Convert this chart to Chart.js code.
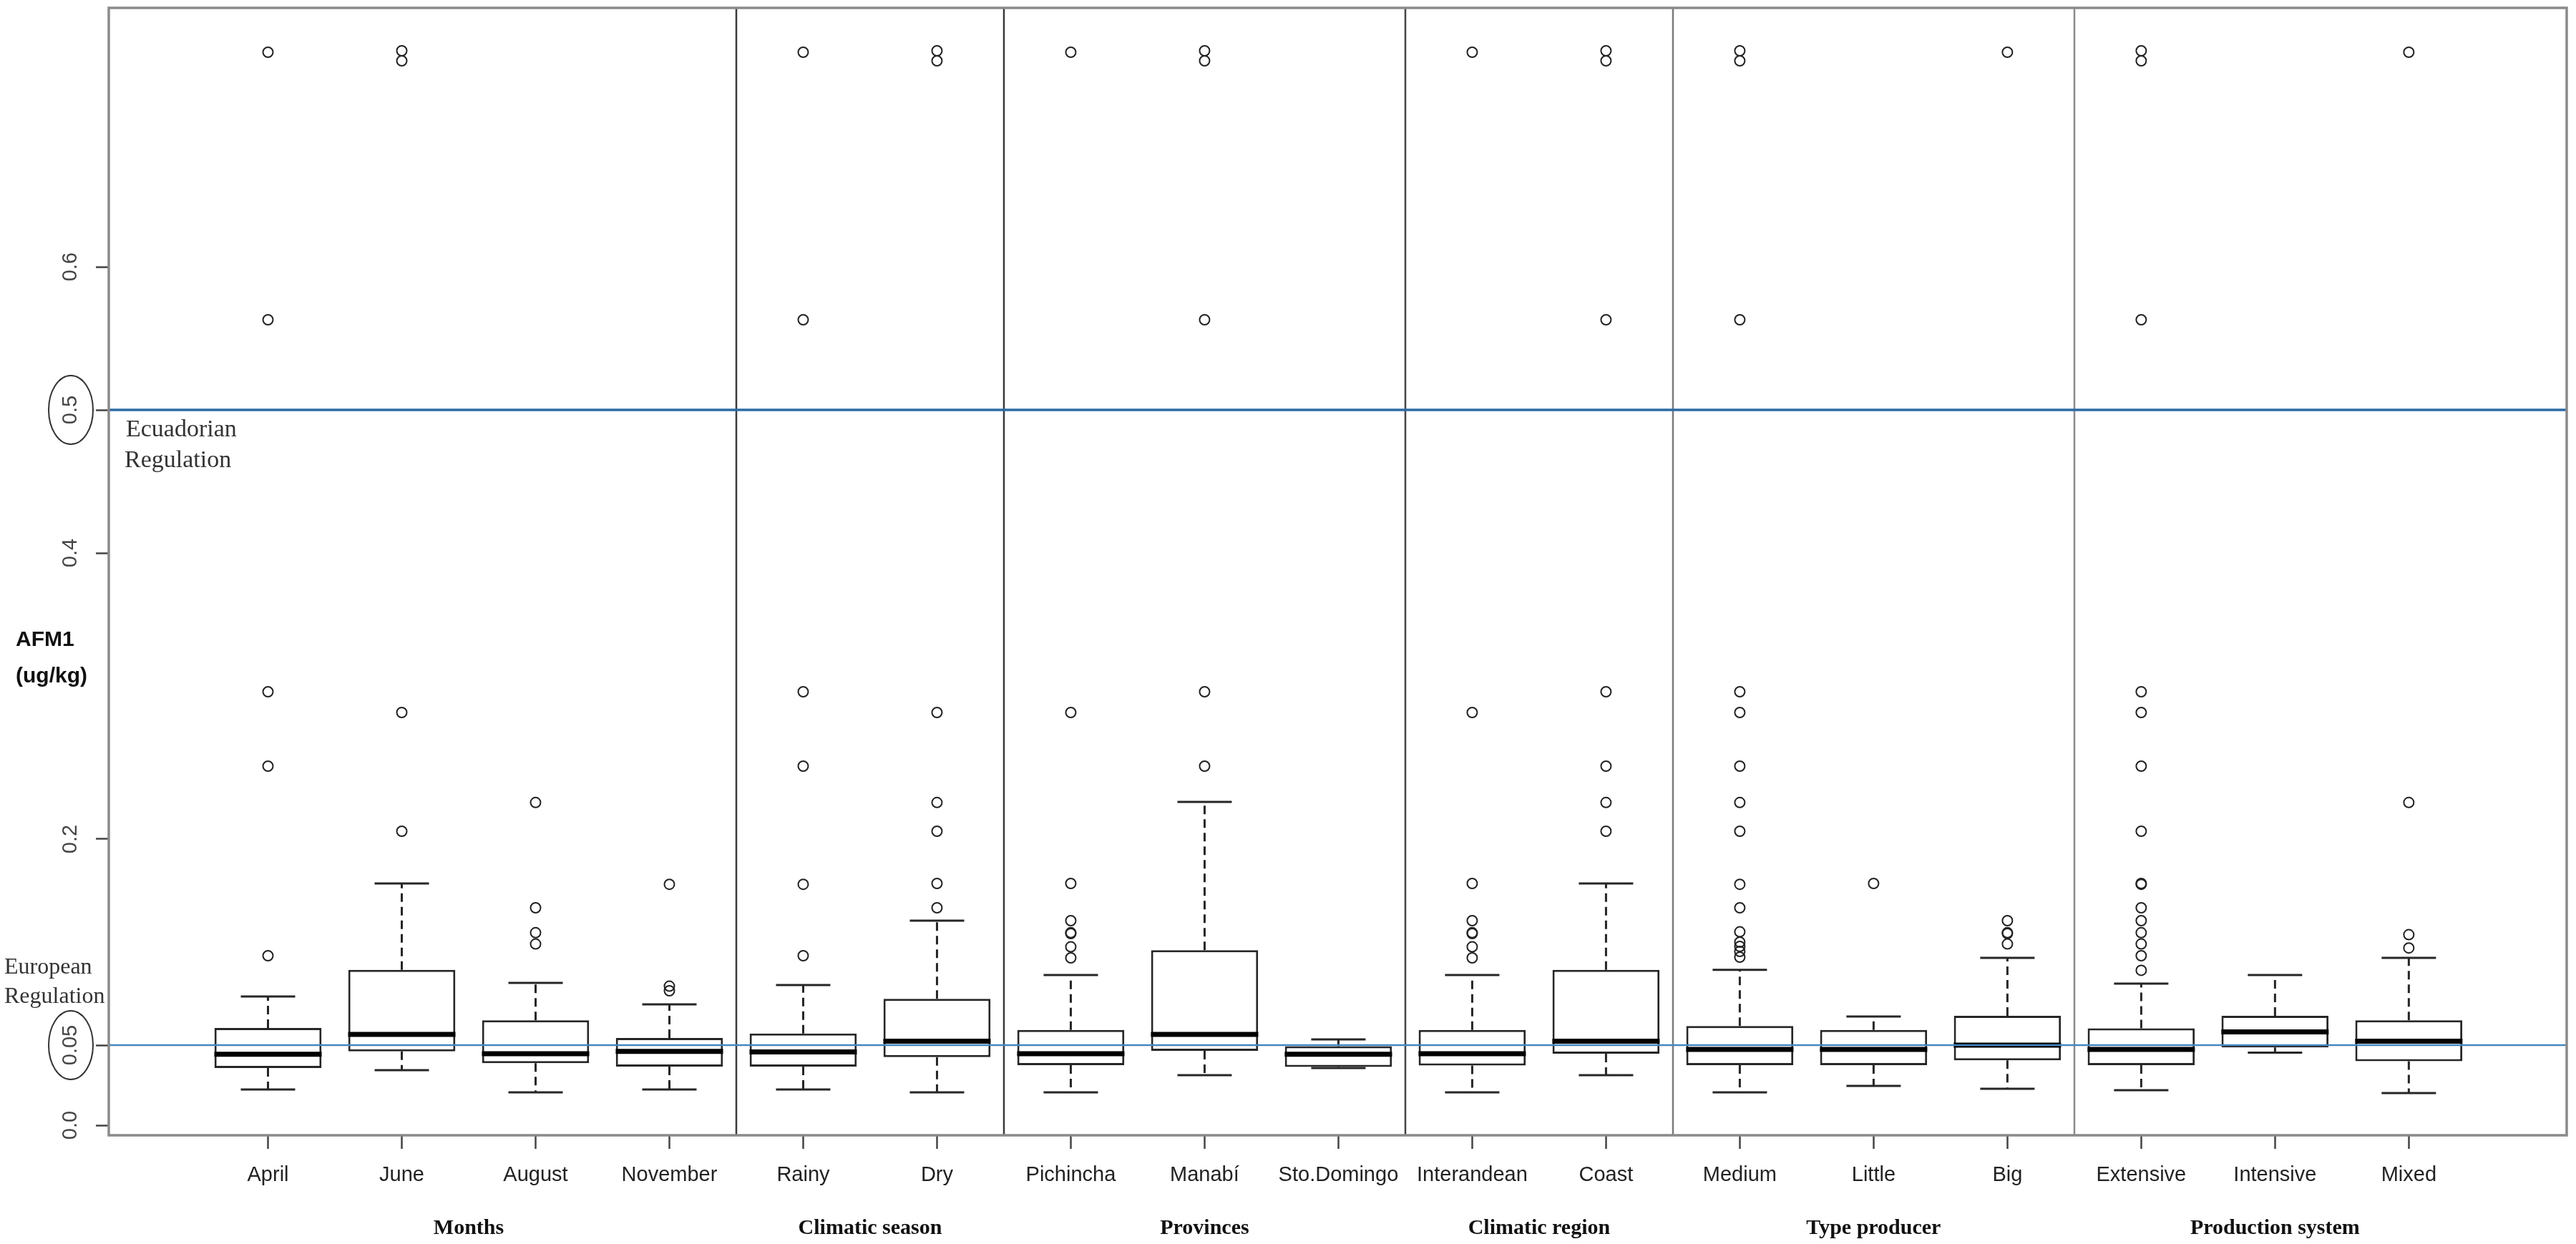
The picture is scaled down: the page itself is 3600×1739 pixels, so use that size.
<!DOCTYPE html>
<html>
<head>
<meta charset="utf-8">
<title>AFM1 boxplots</title>
<script src="https://cdn.jsdelivr.net/npm/chart.js@4.4.1/dist/chart.umd.min.js"></script>
<style>
  html, body { margin: 0; padding: 0; background: #fff; }
  #wrap { width: 3600px; height: 1739px; position: relative; }
</style>
</head>
<body>
<div id="wrap"><canvas id="chart"></canvas></div>
<script>
// Categorias y grupos
const CATEGORIES = ['April', 'June', 'August', 'November', 'Rainy', 'Dry', 'Pichincha', 'Manabí', 'Sto.Domingo',
  'Interandean', 'Coast', 'Medium', 'Little', 'Big', 'Extensive', 'Intensive', 'Mixed'];
const GROUPS = ['Months', 'Climatic season', 'Provinces', 'Climatic region', 'Type producer', 'Production system'];
const GROUP_SIZES = [4, 2, 3, 2, 3, 3];

// Estadisticos de cada caja (ug/kg)
const WHISKER_LOW = [0.025, 0.0385, 0.023, 0.025, 0.025, 0.023, 0.023, 0.035, 0.040, 0.023, 0.035, 0.023, 0.0275, 0.0255, 0.0245, 0.0507, 0.0225];
const Q1 = [0.040, 0.0516, 0.0434, 0.041, 0.041, 0.0476, 0.042, 0.052, 0.0408, 0.0417, 0.050, 0.042, 0.042, 0.0454, 0.042, 0.0544, 0.0448];
const MEDIAN = [0.0496, 0.0635, 0.050, 0.0516, 0.0513, 0.0587, 0.050, 0.0635, 0.0496, 0.050, 0.0587, 0.053, 0.053, 0.056, 0.053, 0.0652, 0.0587];
const Q3 = [0.068, 0.1086, 0.0734, 0.061, 0.0641, 0.0884, 0.0666, 0.1224, 0.0553, 0.0666, 0.1086, 0.0694, 0.0666, 0.0765, 0.0677, 0.0765, 0.0734];
const WHISKER_HIGH = [0.090, 0.169, 0.0995, 0.0845, 0.098, 0.143, 0.105, 0.226, 0.060, 0.105, 0.169, 0.1086, 0.076, 0.117, 0.099, 0.105, 0.117];
const OUTLIERS = [
  [0.750, 0.563, 0.303, 0.251, 0.1185],
  [0.751, 0.744, 0.2885, 0.2055],
  [0.2256, 0.152, 0.1346, 0.1267],
  [0.1684, 0.0972, 0.094],
  [0.750, 0.563, 0.303, 0.251, 0.1684, 0.1185],
  [0.751, 0.744, 0.2885, 0.2256, 0.2055, 0.169, 0.152],
  [0.750, 0.2885, 0.169, 0.143, 0.1346, 0.134, 0.1247, 0.117],
  [0.751, 0.744, 0.563, 0.303, 0.251],
  [],
  [0.750, 0.2885, 0.169, 0.143, 0.1346, 0.134, 0.1247, 0.117],
  [0.751, 0.744, 0.563, 0.303, 0.251, 0.2256, 0.2055],
  [0.751, 0.744, 0.563, 0.303, 0.2885, 0.251, 0.2256, 0.2055, 0.1684, 0.152, 0.1352, 0.128, 0.125, 0.1215, 0.1175],
  [0.169],
  [0.750, 0.143, 0.1346, 0.134, 0.1267],
  [0.751, 0.744, 0.563, 0.303, 0.2885, 0.251, 0.2055, 0.169, 0.1684, 0.152, 0.143, 0.1346, 0.1267, 0.1185, 0.1083],
  [],
  [0.750, 0.2256, 0.1332, 0.1239]
];

// Limites regulatorios: la linea europea (0.05) aparece dibujada en la figura a ~0.056
const ECUADOR_LIMIT = 0.5;
const EUROPE_LIMIT = 0.056;

// Eje Y
const Y_TICKS = [0, EUROPE_LIMIT, 0.2, 0.4, ECUADOR_LIMIT, 0.6];
const Y_TICK_LABELS = ['0.0', '0.05', '0.2', '0.4', '0.5', '0.6'];
const CIRCLED_TICKS = [EUROPE_LIMIT, ECUADOR_LIMIT];

const SEPARATOR_COLORS = ['#3a3a3a', '#3a3a3a', '#444', '#7a7a7a', '#8a8a8a'];

Chart.defaults.font.family = "'Liberation Sans', Arial, sans-serif";
Chart.defaults.color = '#222';

// Dibujos extra: separadores, lineas de regulacion, textos
const decorations = {
    id: 'decorations',
    beforeDatasetsDraw(chart) {
        const {ctx, chartArea: a, scales: {x}} = chart;
        ctx.save();
        let idx = 0;
        GROUP_SIZES.slice(0, -1).forEach((n, g) => {
            idx += n;
            const px = Math.round(x.getPixelForValue(idx + 0.5));
            ctx.strokeStyle = SEPARATOR_COLORS[g];
            ctx.lineWidth = 2.5;
            ctx.beginPath();
            ctx.moveTo(px, a.top);
            ctx.lineTo(px, a.bottom);
            ctx.stroke();
        });
        ctx.restore();
    },
    afterDatasetsDraw(chart) {
        const {ctx, chartArea: a, scales: {y}} = chart;
        ctx.save();
        [[ECUADOR_LIMIT, '#2d6aa3', 3.5], [EUROPE_LIMIT, '#4388c2', 2.5]].forEach(([v, color, w]) => {
            const py = y.getPixelForValue(v);
            ctx.strokeStyle = color;
            ctx.lineWidth = w;
            ctx.beginPath();
            ctx.moveTo(a.left, py);
            ctx.lineTo(a.right, py);
            ctx.stroke();
        });
        ctx.restore();
    },
    afterDraw(chart) {
        const {ctx, chartArea: a, scales: {x, y}} = chart;
        ctx.save();

        // marco
        ctx.strokeStyle = '#8a8a8a';
        ctx.lineWidth = 3.5;
        ctx.strokeRect(a.left, a.top, a.right - a.left, a.bottom - a.top);

        // etiquetas del eje Y (rotadas como en R)
        const labelX = a.left - 53;
        ctx.font = "29px 'Liberation Sans', Arial, sans-serif";
        ctx.fillStyle = '#444';
        ctx.textAlign = 'center';
        ctx.textBaseline = 'middle';
        Y_TICKS.forEach((v, i) => {
            const py = y.getPixelForValue(v);
            ctx.save();
            ctx.translate(labelX, py);
            ctx.rotate(-Math.PI / 2);
            ctx.fillText(Y_TICK_LABELS[i], 0, 0);
            ctx.restore();
        });

        // elipses alrededor de 0.05 y 0.5
        ctx.strokeStyle = '#333';
        ctx.lineWidth = 2;
        CIRCLED_TICKS.forEach(v => {
            const py = y.getPixelForValue(v);
            ctx.beginPath();
            ctx.ellipse(labelX, py, 31, 48, 0, 0, Math.PI * 2);
            ctx.stroke();
        });

        // titulo del eje Y
        ctx.font = "bold 30px 'Liberation Sans', Arial, sans-serif";
        ctx.fillStyle = '#111';
        ctx.textAlign = 'left';
        ctx.fillText('AFM1', 22, 895);
        ctx.fillText('(ug/kg)', 22, 946);

        // anotaciones de regulacion
        ctx.font = "34px 'Liberation Serif', 'Times New Roman', serif";
        ctx.fillStyle = '#333';
        const yEc = y.getPixelForValue(ECUADOR_LIMIT);
        ctx.fillText('Ecuadorian', a.left + 24, yEc + 28);
        ctx.fillText('Regulation', a.left + 22, yEc + 71);
        ctx.font = "32px 'Liberation Serif', 'Times New Roman', serif";
        const yEu = y.getPixelForValue(EUROPE_LIMIT);
        ctx.fillText('European', 6, yEu - 108);
        ctx.fillText('Regulation', 6, yEu - 67);

        // titulos de grupo
        ctx.font = "bold 30px 'Liberation Serif', 'Times New Roman', serif";
        ctx.fillStyle = '#111';
        ctx.textAlign = 'center';
        let start = 1;
        GROUPS.forEach((g, i) => {
            const end = start + GROUP_SIZES[i] - 1;
            ctx.fillText(g, x.getPixelForValue((start + end) / 2), a.bottom + 130);
            start = end + 1;
        });
        ctx.restore();
    }
};

const positions = CATEGORIES.map((_, i) => i + 1);

const whiskerData = [];
positions.forEach((p, i) => {
    whiskerData.push({x: p, y: Q3[i]}, {x: p, y: WHISKER_HIGH[i]}, {x: p, y: null});
    whiskerData.push({x: p, y: Q1[i]}, {x: p, y: WHISKER_LOW[i]}, {x: p, y: null});
});

const capData = [];
positions.forEach((p, i) => {
    capData.push({x: p, y: WHISKER_HIGH[i]}, {x: p, y: WHISKER_LOW[i]});
});

const outlierData = [];
positions.forEach((p, i) => {
    OUTLIERS[i].forEach(v => outlierData.push({x: p, y: v}));
});

new Chart(document.getElementById('chart'), {
    type: 'bar',
    data: {
        datasets: [
            {
                label: 'IQR',
                data: positions.map((p, i) => ({x: p, y: [Q1[i], Q3[i]]})),
                backgroundColor: '#ffffff',
                borderColor: '#262626',
                borderWidth: 3,
                borderSkipped: false,
                barPercentage: 0.8,
                categoryPercentage: 1,
                order: 5
            },
            {
                type: 'line',
                label: 'whiskers',
                data: whiskerData,
                borderColor: '#262626',
                borderWidth: 3,
                borderDash: [12, 7],
                pointRadius: 0,
                spanGaps: false,
                order: 4
            },
            {
                type: 'scatter',
                label: 'caps',
                data: capData,
                pointStyle: 'line',
                pointRadius: 38,
                pointBorderWidth: 3,
                borderColor: '#262626',
                order: 3
            },
            {
                type: 'scatter',
                label: 'median',
                data: positions.map((p, i) => ({x: p, y: MEDIAN[i]})),
                pointStyle: 'line',
                pointRadius: 75,
                pointBorderWidth: 7,
                borderColor: '#000',
                order: 2
            },
            {
                type: 'scatter',
                label: 'outliers',
                data: outlierData,
                pointStyle: 'circle',
                pointRadius: 7,
                pointBorderWidth: 2,
                borderColor: '#222',
                backgroundColor: 'rgba(255,255,255,0)',
                order: 1
            }
        ]
    },
    options: {
        responsive: true,
        maintainAspectRatio: false,
        animation: false,
        events: [],
        layout: {
            autoPadding: false,
            padding: {left: 132, right: 13, top: 11, bottom: 62}
        },
        plugins: {
            legend: {display: false},
            tooltip: {enabled: false}
        },
        scales: {
            x: {
                type: 'linear',
                offset: false,
                min: 1 - 1.19,
                max: CATEGORIES.length + 1.18,
                afterBuildTicks: scale => {
                    scale.ticks = positions.map(v => ({value: v}));
                },
                afterFit: scale => { scale.height = 90; },
                ticks: {
                    callback: value => CATEGORIES[value - 1],
                    autoSkip: false,
                    maxRotation: 0,
                    minRotation: 0,
                    padding: 20,
                    color: '#222',
                    font: {size: 29}
                },
                grid: {
                    offset: false,
                    drawOnChartArea: false,
                    drawTicks: true,
                    tickLength: 19,
                    tickColor: '#444',
                    tickWidth: 2.5
                },
                border: {display: false}
            },
            y: {
                type: 'linear',
                min: -0.007,
                max: 0.781,
                afterBuildTicks: scale => {
                    scale.ticks = Y_TICKS.map(v => ({value: v}));
                },
                afterFit: scale => { scale.width = 20; },
                ticks: {display: false},
                grid: {
                    drawOnChartArea: false,
                    drawTicks: true,
                    tickLength: 18,
                    tickColor: '#444',
                    tickWidth: 2.5
                },
                border: {display: false}
            }
        }
    },
    plugins: [decorations]
});
</script>
</body>
</html>
